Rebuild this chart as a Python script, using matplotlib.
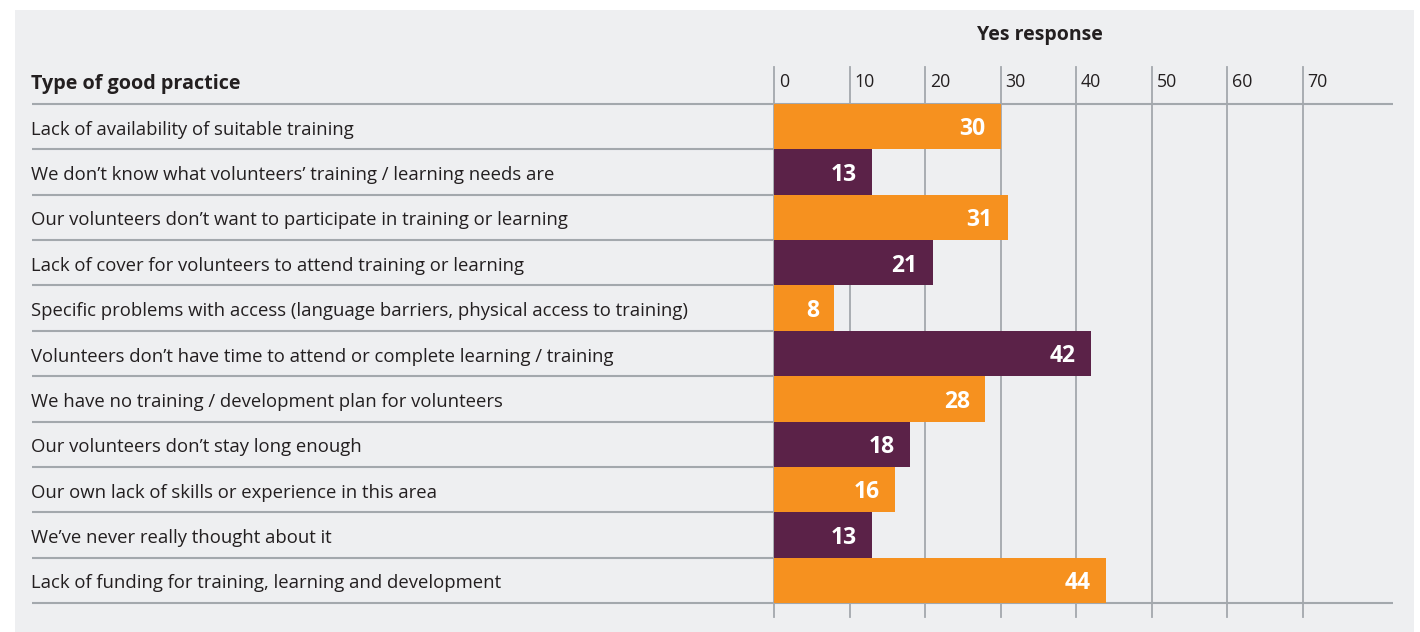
import matplotlib
matplotlib.use("Agg")
import matplotlib.pyplot as plt
from matplotlib.patches import Rectangle
from matplotlib.transforms import blended_transform_factory

categories = [
    "Lack of availability of suitable training",
    "We don\u2019t know what volunteers\u2019 training / learning needs are",
    "Our volunteers don\u2019t want to participate in training or learning",
    "Lack of cover for volunteers to attend training or learning",
    "Specific problems with access (language barriers, physical access to training)",
    "Volunteers don\u2019t have time to attend or complete learning / training",
    "We have no training / development plan for volunteers",
    "Our volunteers don\u2019t stay long enough",
    "Our own lack of skills or experience in this area",
    "We\u2019ve never really thought about it",
    "Lack of funding for training, learning and development",
]
values = [30, 13, 31, 21, 8, 42, 28, 18, 16, 13, 44]
tick_values = [0, 10, 20, 30, 40, 50, 60, 70]
header_left = "Type of good practice"
header_right = "Yes response"

ORANGE = "#F6911F"
PURPLE = "#5B2248"
PANEL = "#EEEFF1"
LINE = "#A3A8AD"
TEXT = "#231F20"
FONT = "Open Sans"

W, H = 1420, 632
fig = plt.figure(figsize=(W / 100, H / 100), dpi=100)
fig.patch.set_facecolor("white")

# gray panel
fig.patches.append(Rectangle((15 / W, 0), (1414 - 15) / W, (H - 10) / H,
                             transform=fig.transFigure, facecolor=PANEL,
                             edgecolor="none", zorder=-10))

x_left, x_right = 32, 1393
y_top, y_bot = 104, 603
ax = fig.add_axes([x_left / W, 1 - y_bot / H, (x_right - x_left) / W, (y_bot - y_top) / H])
ax.set_facecolor("none")
ax.set_zorder(5)

px_per_unit = 7.55
zero_px = 774
xmin = (x_left - zero_px) / px_per_unit
xmax = (x_right - zero_px) / px_per_unit
n = len(categories)
ax.set_xlim(xmin, xmax)
ax.set_ylim(n - 0.5, -0.5)
ax.axis("off")

# vertical gridlines
ext_top = (y_top - 67) / (y_bot - y_top)
ext_bot = (617 - y_bot) / (y_bot - y_top)
for t in tick_values:
    ax.axvline(t, ymin=-ext_bot, ymax=1 + ext_top, color=LINE, lw=1.3,
               clip_on=False, zorder=1)

# horizontal lines
ax.hlines([-0.5, n - 0.5], xmin, xmax, color=LINE, lw=1.5, zorder=1, clip_on=False)
ax.hlines([i + 0.5 for i in range(n - 1)], xmin, 0, color=LINE, lw=1.5, zorder=1)

colors = [ORANGE if i % 2 == 0 else PURPLE for i in range(n)]
ax.barh(range(n), values, height=1.0, color=colors, zorder=2, edgecolor="none")

for i, v in enumerate(values):
    ax.annotate(str(v), xy=(v, i), xytext=(-11, -2), textcoords="offset points",
                ha="right", va="center", color="white", fontsize=16.5,
                fontweight="bold", family=FONT, zorder=3)

for i, c in enumerate(categories):
    ax.annotate(c, xy=(xmin, i), xytext=(-1, -2.2), textcoords="offset points",
                ha="left", va="center", color=TEXT, fontsize=13.35,
                family=FONT, zorder=3)

# tick labels above
trans = blended_transform_factory(ax.transData, fig.transFigure)
for t in tick_values:
    ax.text(t + 5 / px_per_unit, 1 - 82 / H, str(t), transform=trans,
            ha="left", va="center", fontsize=12.8, color=TEXT, family=FONT)

fig.text(31 / W, 1 - 84 / H, header_left, ha="left", va="center",
         fontsize=14.2, fontweight="bold", color=TEXT, family=FONT)
fig.text(1040 / W, 1 - 35 / H, header_right, ha="center", va="center",
         fontsize=14.0, fontweight="bold", color=TEXT, family=FONT)

fig.savefig("out.png", dpi=100, facecolor="white")
